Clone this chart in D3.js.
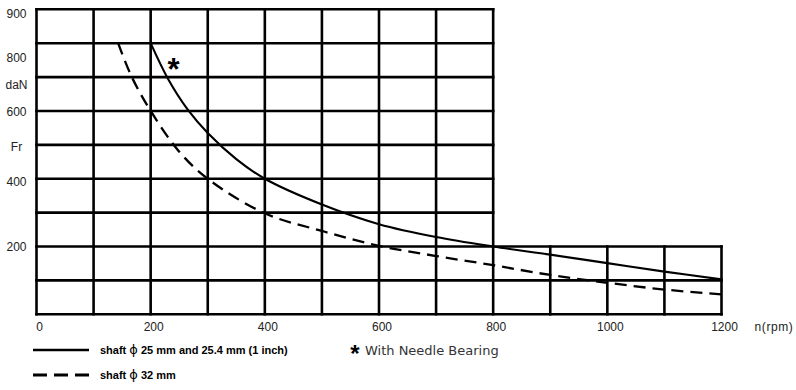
<!DOCTYPE html>
<html>
<head>
<meta charset="utf-8">
<script src="https://cdn.jsdelivr.net/npm/d3@7"></script>
<style>
  body { margin: 0; background: #fff; }
  svg { display: block; }
</style>
</head>
<body>
<div id="chart"></div>
<script>
// speed (rpm) and radial load (daN)
var shaft25N = [200, 230, 265, 300, 350, 400, 500, 600, 700, 800, 900, 1000, 1100, 1200];
var shaft25F = [800, 696, 604, 535, 458, 400, 324, 266, 228, 200, 176, 151, 126, 103];
var shaft32N = [143, 167, 200, 250, 300, 400, 500, 600, 700, 800, 900, 1000, 1100, 1200];
var shaft32F = [800, 700, 600, 480, 400, 298, 246, 202, 172, 145, 116, 93, 73, 59];

var xTickValues = [0, 200, 400, 600, 800, 1000, 1200];
var yTickValues = [900, 800, 700, 600, 500, 400, 200];
var yTickLabels = ['900', '800', 'daN', '600', 'Fr', '400', '200'];

var legendLabels = ['shaft \u03D5 25 mm and 25.4 mm (1 inch)', 'shaft \u03D5 32 mm'];
var noteLabel = 'With Needle Bearing';
var xUnitLabel = 'n(rpm)';

var W = 796, H = 390;

var svg = d3.select('#chart').append('svg')
  .attr('width', W).attr('height', H);

var x = d3.scaleLinear().domain([0, 1200]).range([36.5, 721.5]);
var y = d3.scaleLinear().domain([0, 900]).range([314.3, 9.3]);

var gridW = 2.6;
var grid = svg.append('g').attr('stroke', '#000').attr('stroke-width', gridW)
  .attr('stroke-linecap', 'square');

// vertical grid: full height up to 800 rpm, only up to 200 daN after that
d3.range(0, 1201, 100).forEach(function (n) {
  grid.append('line')
    .attr('x1', x(n)).attr('x2', x(n))
    .attr('y1', y(0)).attr('y2', n <= 800 ? y(900) : y(200));
});
// horizontal grid
d3.range(0, 901, 100).forEach(function (v) {
  grid.append('line')
    .attr('x1', x(0)).attr('x2', v <= 200 ? x(1200) : x(800))
    .attr('y1', y(v)).attr('y2', y(v));
});

// curves
var line = d3.line()
  .x(function (d) { return x(d[0]); })
  .y(function (d) { return y(d[1]); })
  .curve(d3.curveCatmullRom.alpha(0.5));

var solid = shaft25N.map(function (n, i) { return [n, shaft25F[i]]; });
var dashed = shaft32N.map(function (n, i) { return [n, shaft32F[i]]; });

svg.append('path').datum(solid)
  .attr('d', line).attr('fill', 'none')
  .attr('stroke', '#000').attr('stroke-width', 2.1);

svg.append('path').datum(dashed)
  .attr('d', line).attr('fill', 'none')
  .attr('stroke', '#000').attr('stroke-width', 2.3)
  .attr('stroke-dasharray', '12,7');

// asterisk marker
svg.append('text')
  .attr('x', 173.5).attr('y', 80)
  .attr('text-anchor', 'middle')
  .style('font-family', 'Liberation Sans, Arial, sans-serif')
  .style('font-weight', 'bold')
  .style('font-size', '31px')
  .text('*');

// tick labels
var tickFont = 'Liberation Sans, Arial, sans-serif';
svg.append('g').selectAll('text')
  .data(xTickValues).enter().append('text')
  .attr('x', function (d) { return x(d) + 3; })
  .attr('y', 331)
  .attr('text-anchor', 'middle')
  .style('font-family', tickFont).style('font-size', '12px').style('fill', '#222')
  .text(function (d) { return d; });

svg.append('text')
  .attr('x', 774).attr('y', 331)
  .attr('text-anchor', 'middle')
  .style('font-family', tickFont).style('font-size', '12px').style('fill', '#222')
  .style('letter-spacing', '0.6px')
  .text(xUnitLabel);

var yNudge = [5, 15, 8, 1, 2, 3, 0];
svg.append('g').selectAll('text')
  .data(yTickValues).enter().append('text')
  .attr('x', 16.5)
  .attr('y', function (d, i) { return y(d) + yNudge[i] + 4; })
  .attr('text-anchor', 'middle')
  .style('font-family', tickFont).style('font-size', '12px').style('fill', '#222')
  .text(function (d, i) { return yTickLabels[i]; });

// legend
var leg = svg.append('g');
leg.append('line')
  .attr('x1', 33).attr('x2', 89).attr('y1', 350).attr('y2', 350)
  .attr('stroke', '#000').attr('stroke-width', 2.6);
leg.append('line')
  .attr('x1', 33).attr('x2', 89).attr('y1', 375).attr('y2', 375)
  .attr('stroke', '#000').attr('stroke-width', 2.8)
  .attr('stroke-dasharray', '14,7');

[350, 375].forEach(function (yy, i) {
  var t = leg.append('text')
    .attr('x', 100).attr('y', yy + 4)
    .style('font-family', 'Liberation Sans, Arial, sans-serif')
    .style('font-weight', 'bold').style('font-size', '11px');
  var parts = legendLabels[i].split('\u03D5');
  t.append('tspan').text(parts[0]);
  t.append('tspan')
    .style('font-family', 'DejaVu Sans').style('font-weight', 'normal')
    .style('font-size', '13px').text('\u03D5');
  t.append('tspan').text(parts[1]);
});

leg.append('text')
  .attr('x', 355).attr('y', 362)
  .attr('text-anchor', 'middle')
  .style('font-family', 'Liberation Sans, Arial, sans-serif')
  .style('font-weight', 'bold').style('font-size', '24px')
  .text('*');
leg.append('text')
  .attr('x', 365).attr('y', 354.5)
  .style('font-family', 'DejaVu Sans, sans-serif')
  .style('font-size', '13px').style('fill', '#333')
  .text(noteLabel);
</script>
</body>
</html>
